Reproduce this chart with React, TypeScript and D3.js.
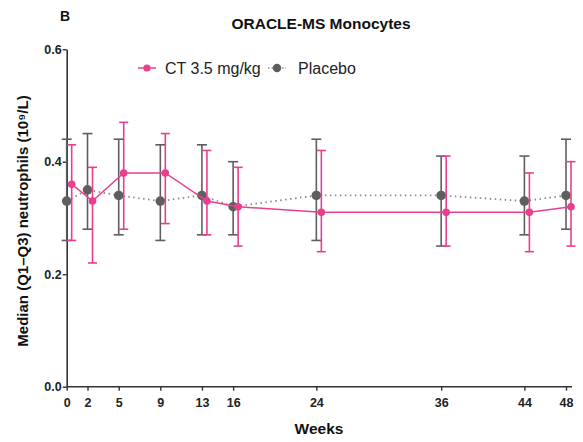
import React, { useEffect, useRef } from 'react';
import * as d3 from 'd3';

const weeks = [0, 2, 5, 9, 13, 16, 24, 36, 44, 48];
const ctMedian = [0.36, 0.33, 0.38, 0.38, 0.33, 0.32, 0.31, 0.31, 0.31, 0.32];
const ctQ1 = [0.26, 0.22, 0.28, 0.29, 0.27, 0.25, 0.24, 0.25, 0.24, 0.25];
const ctQ3 = [0.43, 0.39, 0.47, 0.45, 0.42, 0.39, 0.42, 0.41, 0.38, 0.40];
const placeboMedian = [0.33, 0.35, 0.34, 0.33, 0.34, 0.32, 0.34, 0.34, 0.33, 0.34];
const placeboQ1 = [0.26, 0.28, 0.27, 0.26, 0.27, 0.27, 0.26, 0.25, 0.27, 0.28];
const placeboQ3 = [0.44, 0.45, 0.44, 0.43, 0.43, 0.40, 0.44, 0.41, 0.41, 0.44];
const yTicks = [0, 0.2, 0.4, 0.6];

const PINK = '#e8408e';
const GRAY = '#5e5e5e';
const FONT = '"Liberation Sans", Arial, sans-serif';

const App = () => {
  const ref = useRef<SVGSVGElement>(null);

  useEffect(() => {
    const width = 583;
    const height = 442;
    const svg = d3.select(ref.current);
    svg.selectAll('*').remove();

    const x = d3.scaleLinear().domain([0, 48]).range([66.7, 566]);
    const y = d3.scaleLinear().domain([0, 0.6]).range([386.7, 49.2]);
    const ctShift = 5; // CT points are nudged right of the placebo points

    // axes
    const yAxis = svg.append('g')
      .attr('transform', `translate(${x(0)},0)`)
      .call(d3.axisLeft(y).tickValues(yTicks).tickFormat(d3.format('.1f')).tickSize(4).tickSizeOuter(0));
    yAxis.select('.domain').attr('stroke', '#333').attr('stroke-width', 1.6);
    yAxis.selectAll('.tick line').attr('stroke', '#333').attr('stroke-width', 1.4);
    yAxis.selectAll('.tick text')
      .attr('font-family', FONT).attr('font-size', 12.5).attr('font-weight', 'bold').attr('fill', '#222').attr('x', -5);

    const xAxis = svg.append('g')
      .attr('transform', `translate(0,${y(0)})`)
      .call(d3.axisBottom(x).tickValues(weeks).tickFormat(d3.format('d')).tickSize(4).tickSizeOuter(0));
    xAxis.select('.domain').remove();
    xAxis.append('line')
      .attr('x1', x(0)).attr('x2', x(48) + 6)
      .attr('stroke', '#333').attr('stroke-width', 1.6);
    xAxis.selectAll('.tick line').attr('stroke', '#333').attr('stroke-width', 1.4);
    xAxis.selectAll('.tick text')
      .attr('font-family', FONT).attr('font-size', 12.5).attr('font-weight', 'bold').attr('fill', '#222').attr('y', 11);

    // series
    const series = [
      { median: placeboMedian, q1: placeboQ1, q3: placeboQ3, color: GRAY, shift: 0, r: 4.8, dash: '1.5,3.5', lineColor: '#8a8a8a', cap: 5 },
      { median: ctMedian, q1: ctQ1, q3: ctQ3, color: PINK, shift: ctShift, r: 3.8, dash: null, lineColor: PINK, cap: 4.5 },
    ];

    series.forEach(s => {
      const line = d3.line<number>()
        .x((d, i) => x(weeks[i]) + s.shift)
        .y(d => y(d));
      svg.append('path')
        .attr('d', line(s.median))
        .attr('fill', 'none')
        .attr('stroke', s.lineColor)
        .attr('stroke-width', s.dash ? 1.8 : 1.5)
        .attr('stroke-dasharray', s.dash);

      const g = svg.append('g').attr('stroke', s.color).attr('stroke-width', 1.6);
      weeks.forEach((w, i) => {
        const cx = x(w) + s.shift;
        g.append('line').attr('x1', cx).attr('x2', cx).attr('y1', y(s.q1[i])).attr('y2', y(s.q3[i]));
        g.append('line').attr('x1', cx - s.cap).attr('x2', cx + s.cap).attr('y1', y(s.q1[i])).attr('y2', y(s.q1[i]));
        g.append('line').attr('x1', cx - s.cap).attr('x2', cx + s.cap).attr('y1', y(s.q3[i])).attr('y2', y(s.q3[i]));
      });

      svg.append('g')
        .selectAll('circle')
        .data(s.median)
        .join('circle')
        .attr('cx', (d, i) => x(weeks[i]) + s.shift)
        .attr('cy', d => y(d))
        .attr('r', s.r)
        .attr('fill', s.color);
    });

    // legend
    const legend = [
      { label: 'CT 3.5 mg/kg', color: PINK, cx: 147, tx: 165, r: 3.6, dash: null },
      { label: 'Placebo', color: GRAY, cx: 277, tx: 298, r: 4.2, dash: '1.5,2' },
    ];
    legend.forEach(l => {
      svg.append('line')
        .attr('x1', l.cx - 9).attr('x2', l.cx + 9).attr('y1', 68).attr('y2', 68)
        .attr('stroke', l.dash ? '#8a8a8a' : l.color).attr('stroke-width', 1.5)
        .attr('stroke-dasharray', l.dash);
      svg.append('circle').attr('cx', l.cx).attr('cy', 68).attr('r', l.r).attr('fill', l.color);
      svg.append('text')
        .attr('x', l.tx).attr('y', 73.5)
        .attr('font-family', FONT).attr('font-size', 16).attr('fill', '#222')
        .text(l.label);
    });

    // titles
    svg.append('text')
      .attr('x', 60).attr('y', 21)
      .attr('font-family', FONT).attr('font-size', 14).attr('font-weight', 'bold').attr('fill', '#111')
      .text('B');
    svg.append('text')
      .attr('x', 321).attr('y', 29).attr('text-anchor', 'middle')
      .attr('font-family', FONT).attr('font-size', 15.5).attr('font-weight', 'bold').attr('fill', '#111')
      .text('ORACLE-MS Monocytes');
    svg.append('text')
      .attr('x', 319).attr('y', 434).attr('text-anchor', 'middle')
      .attr('font-family', FONT).attr('font-size', 15.5).attr('font-weight', 'bold').attr('fill', '#111')
      .text('Weeks');
    svg.append('text')
      .attr('transform', 'translate(28,221) rotate(-90)')
      .attr('text-anchor', 'middle')
      .attr('font-family', FONT).attr('font-size', 15).attr('font-weight', 'bold').attr('fill', '#111')
      .text('Median (Q1–Q3) neutrophils (10⁹/L)');

    svg.attr('width', width).attr('height', height);
  }, []);

  return (
    <svg ref={ref} width={583} height={442} style={{ position: 'absolute', left: 0, top: 0, background: '#fff' }} />
  );
};

export default App;
